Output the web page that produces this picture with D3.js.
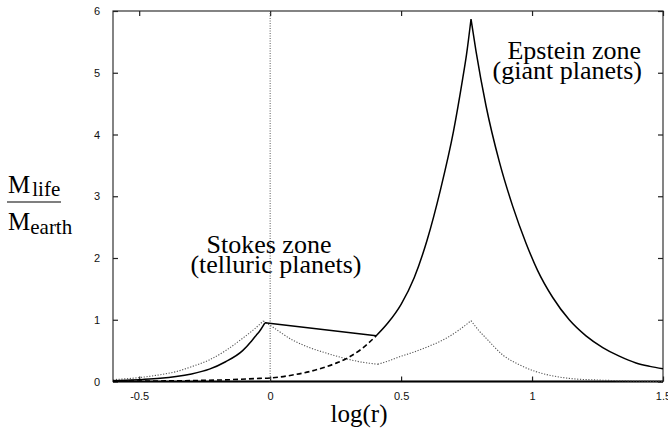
<!DOCTYPE html>
<html>
<head>
<meta charset="utf-8">
<script src="https://cdn.jsdelivr.net/npm/d3@7"></script>
<style>
  body { margin: 0; background: #fff; }
  svg { display: block; }
</style>
</head>
<body>
<svg id="chart" width="668" height="433"></svg>
<script>
// values
const xTicks = [-0.5, 0, 0.5, 1, 1.5];
const yTicks = [0, 1, 2, 3, 4, 5, 6];

// solid line: Stokes branch, bridge, then Epstein branch
const solidX = [-0.6, -0.55, -0.486, -0.42, -0.359, -0.3, -0.232, -0.17, -0.105, -0.07, -0.053, -0.041, -0.02,
  0.405, 0.45, 0.5, 0.55, 0.6, 0.65, 0.7, 0.735, 0.75, 0.767,
  0.786, 0.824, 0.875, 0.926, 0.977, 1.021, 1.079, 1.142, 1.206, 1.27, 1.333, 1.397, 1.45, 1.5];
const solidY = [0.014, 0.021, 0.033, 0.051, 0.08, 0.123, 0.2, 0.32, 0.5, 0.66, 0.75, 0.81, 0.95,
  0.74, 0.95, 1.25, 1.68, 2.3, 3.1, 4.05, 4.9, 5.3, 5.87,
  5.35, 4.47, 3.56, 2.84, 2.24, 1.80, 1.36, 1.0, 0.74, 0.55, 0.41, 0.30, 0.245, 0.205];
// indices where the solid line has a corner (peaks and the bridge ends)
const solidCorners = [12, 13, 22];

// dashed: Epstein curve continued inside the Stokes zone
const dashX = [-0.6, -0.45, -0.3, -0.15, -0.041, 0, 0.086, 0.15, 0.214, 0.26, 0.303, 0.35, 0.405];
const dashY = [0.004, 0.008, 0.015, 0.03, 0.05, 0.057, 0.105, 0.16, 0.24, 0.31, 0.40, 0.53, 0.74];

// dotted curve
const dotX = [-0.6, -0.486, -0.42, -0.359, -0.3, -0.232, -0.17, -0.105, -0.06, -0.026, 0, 0.086, 0.15, 0.214,
  0.28, 0.341, 0.411, 0.45, 0.494, 0.544, 0.6, 0.672, 0.72, 0.767, 0.8, 0.825, 0.888, 0.952, 1.015,
  1.08, 1.142, 1.244, 1.35, 1.5];
const dotY = [0.03, 0.07, 0.11, 0.16, 0.24, 0.35, 0.50, 0.70, 0.85, 0.98, 0.91, 0.67, 0.55, 0.46,
  0.38, 0.32, 0.28, 0.33, 0.40, 0.47, 0.56, 0.70, 0.83, 0.985, 0.81, 0.70, 0.43, 0.27, 0.16,
  0.09, 0.05, 0.025, 0.012, 0.005];
const dotCorners = [9, 16, 23];

const svg = d3.select("#chart");
const margin = { top: 11, right: 5, bottom: 51.5, left: 113 };
const width = 668, height = 433;
const innerW = width - margin.left - margin.right;
const innerH = height - margin.top - margin.bottom;

const x = d3.scaleLinear().domain([-0.6, 1.5]).range([margin.left, margin.left + innerW]);
const y = d3.scaleLinear().domain([0, 6]).range([margin.top + innerH, margin.top]);

const sans = "'Liberation Sans', Arial, sans-serif";
const serif = "'Liberation Serif', 'Times New Roman', serif";

// frame with inward ticks on all four sides
svg.append("rect")
  .attr("x", x(-0.6)).attr("y", y(6))
  .attr("width", innerW).attr("height", innerH)
  .attr("fill", "none").attr("stroke", "#333").attr("stroke-width", 1.2);

const axBottom = svg.append("g")
  .attr("transform", `translate(0,${y(0)})`)
  .call(d3.axisBottom(x).tickValues(xTicks).tickSize(-5).tickPadding(11).tickFormat(d => String(d)));
const axTop = svg.append("g")
  .attr("transform", `translate(0,${y(6)})`)
  .call(d3.axisTop(x).tickValues(xTicks).tickSize(-5).tickFormat(""));
const axLeft = svg.append("g")
  .attr("transform", `translate(${x(-0.6)},0)`)
  .call(d3.axisLeft(y).tickValues(yTicks).tickSize(-5).tickPadding(13).tickFormat(d => String(d)));
const axRight = svg.append("g")
  .attr("transform", `translate(${x(1.5)},0)`)
  .call(d3.axisRight(y).tickValues(yTicks).tickSize(-5).tickFormat(""));

[axBottom, axTop, axLeft, axRight].forEach(g => {
  g.select(".domain").remove();
  g.selectAll(".tick line").attr("stroke", "#222").attr("stroke-width", 1.2);
  g.selectAll("text").attr("font-family", sans).attr("font-size", 11).attr("fill", "#111");
});

// heavier bottom axis line
svg.append("line")
  .attr("x1", x(-0.6)).attr("x2", x(1.5))
  .attr("y1", y(0)).attr("y2", y(0))
  .attr("stroke", "#000").attr("stroke-width", 2);

// vertical dotted line at log(r) = 0
svg.append("line")
  .attr("x1", x(0)).attr("x2", x(0))
  .attr("y1", y(0)).attr("y2", y(6))
  .attr("stroke", "#555").attr("stroke-width", 1)
  .attr("stroke-dasharray", "1,1.5");

const line = d3.line().x(d => x(d[0])).y(d => y(d[1])).curve(d3.curveMonotoneX);
const zip = (a, b) => a.map((v, i) => [v, b[i]]);

// smooth between corners, keep the cusps sharp
function pieces(pts, corners) {
  const cuts = [0, ...corners, pts.length - 1];
  const out = [];
  for (let i = 0; i < cuts.length - 1; i++) out.push(pts.slice(cuts[i], cuts[i + 1] + 1));
  return out.map(p => line(p)).join("");
}

svg.append("path")
  .attr("d", pieces(zip(dotX, dotY), dotCorners))
  .attr("fill", "none").attr("stroke", "#555").attr("stroke-width", 1.1)
  .attr("stroke-dasharray", "1.2,1.6");

svg.append("path")
  .attr("d", line(zip(dashX, dashY)))
  .attr("fill", "none").attr("stroke", "#000").attr("stroke-width", 1.6)
  .attr("stroke-dasharray", "5,3");

svg.append("path")
  .attr("d", pieces(zip(solidX, solidY), solidCorners))
  .attr("fill", "none").attr("stroke", "#000").attr("stroke-width", 1.5)
  .attr("stroke-linejoin", "round");

// zone labels
const epstein = svg.append("text")
  .attr("font-family", serif).attr("font-size", 26).attr("text-anchor", "end");
epstein.append("tspan").attr("x", 641).attr("y", 59).text("Epstein zone");
epstein.append("tspan").attr("x", 642).attr("y", 78.5).text("(giant planets)");

const stokes = svg.append("text")
  .attr("font-family", serif).attr("font-size", 26).attr("text-anchor", "middle");
stokes.append("tspan").attr("x", 269).attr("y", 253).text("Stokes zone");
stokes.append("tspan").attr("x", 276).attr("y", 273).text("(telluric planets)");

// axis titles
svg.append("text")
  .attr("x", 359).attr("y", 421.5)
  .attr("font-family", serif).attr("font-size", 25).attr("text-anchor", "middle")
  .text("log(r)");

const num = svg.append("text").attr("x", 8).attr("y", 193)
  .attr("font-family", serif).attr("font-size", 25);
num.append("tspan").text("M");
num.append("tspan").attr("dx", 2).attr("dy", 3).attr("font-size", 21).text("life");

svg.append("line")
  .attr("x1", 7).attr("x2", 61).attr("y1", 202).attr("y2", 202)
  .attr("stroke", "#000").attr("stroke-width", 1.2);

const den = svg.append("text").attr("x", 8).attr("y", 230)
  .attr("font-family", serif).attr("font-size", 25);
den.append("tspan").text("M");
den.append("tspan").attr("dy", 4).attr("font-size", 21).text("earth");
</script>
</body>
</html>
